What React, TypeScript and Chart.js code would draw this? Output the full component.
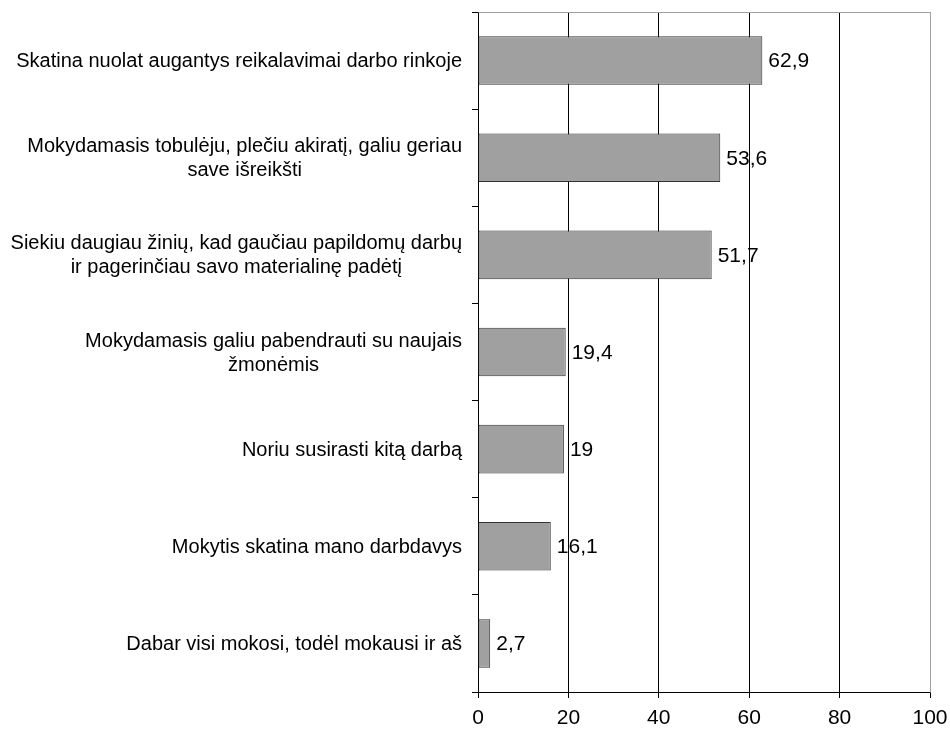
import React, { useEffect, useRef } from "react";
import { Chart, registerables } from "chart.js";

Chart.register(...registerables);

const categories: string[][] = [
  ["Skatina nuolat augantys reikalavimai darbo rinkoje"],
  ["Mokydamasis tobulėju, plečiu akiratį, galiu geriau", "save išreikšti"],
  ["Siekiu daugiau žinių, kad gaučiau papildomų darbų", "ir pagerinčiau savo materialinę padėtį"],
  ["Mokydamasis galiu pabendrauti su naujais", "žmonėmis"],
  ["Noriu susirasti kitą darbą"],
  ["Mokytis skatina mano darbdavys"],
  ["Dabar visi mokosi, todėl mokausi ir aš"],
];
const values: number[] = [62.9, 53.6, 51.7, 19.4, 19, 16.1, 2.7];
const valueLabels: string[] = ["62,9", "53,6", "51,7", "19,4", "19", "16,1", "2,7"];
const xTicks: number[] = [0, 20, 40, 60, 80, 100];

const FONT = "'Liberation Sans', Arial, sans-serif";
const FS = 20;
const NFS = 21;

const labelsPlugin = {
  id: "customLabels",
  afterDraw(chart: any) {
    const ctx = chart.ctx;
    const area = chart.chartArea;
    const xs = chart.scales.x;
    const ys = chart.scales.y;
    ctx.save();
    ctx.strokeStyle = "#a0a0a0";
    ctx.lineWidth = 1;
    ctx.beginPath();
    ctx.moveTo(Math.round(area.left) + 0.5, Math.round(area.top) + 0.5);
    ctx.lineTo(Math.round(area.right) + 0.5, Math.round(area.top) + 0.5);
    ctx.lineTo(Math.round(area.right) + 0.5, Math.round(area.bottom) + 0.5);
    ctx.stroke();
    ctx.fillStyle = "#000";
    ctx.textBaseline = "middle";
    const lh = 24;
    categories.forEach((lines, i) => {
      const yc = ys.getPixelForValue(i) + 1;
      ctx.font = `${FS}px ${FONT}`;
      const maxW = Math.max(...lines.map((l) => ctx.measureText(l).width));
      const cx = area.left - 16 - maxW / 2;
      ctx.textAlign = "center";
      lines.forEach((l, j) => {
        const y = yc + (j - (lines.length - 1) / 2) * lh;
        ctx.fillText(l, cx, y);
      });
      ctx.font = `${NFS}px ${FONT}`;
      ctx.textAlign = "left";
      const xe = xs.getPixelForValue(values[i]);
      ctx.fillText(valueLabels[i], xe + 6, yc);
    });
    ctx.restore();
  },
};

export default function App() {
  const ref = useRef<HTMLCanvasElement>(null);
  useEffect(() => {
    const chart = new Chart(ref.current!, {
      type: "bar",
      data: {
        labels: categories.map((c) => c.join(" ")),
        datasets: [
          {
            data: values,
            backgroundColor: "#a0a0a0",
            borderColor: "#333333",
            borderWidth: 1,
            borderSkipped: false,
            categoryPercentage: 1,
            barPercentage: 0.5,
          },
        ],
      },
      options: {
        indexAxis: "y",
        animation: false,
        responsive: false,
        devicePixelRatio: 1,
        layout: { padding: { top: 12, right: 20, left: 0, bottom: 0 } },
        plugins: { legend: { display: false }, tooltip: { enabled: false } },
        scales: {
          x: {
            min: 0,
            max: 100,
            afterBuildTicks: (s: any) => {
              s.ticks = xTicks.map((v) => ({ value: v }));
            },
            afterFit: (s: any) => {
              s.height = 40;
              s.paddingLeft = 0;
              s.paddingRight = 0;
            },
            grid: {
              color: (c: any) => (c.tick && c.tick.value === 100 ? "#a0a0a0" : "#000"),
              tickColor: "#000",
              tickLength: 6,
              lineWidth: 1,
            },
            border: { color: "#000" },
            ticks: {
              color: "#000",
              font: { family: FONT, size: NFS },
              padding: 8,
              maxRotation: 0,
            },
          },
          y: {
            grid: {
              offset: true,
              drawOnChartArea: false,
              drawTicks: true,
              tickLength: 6,
              tickColor: "#000",
            },
            border: { color: "#000" },
            ticks: { display: false },
            afterFit: (s: any) => {
              s.width = 478;
            },
          },
        },
      },
      plugins: [labelsPlugin],
    });
    return () => chart.destroy();
  }, []);
  return (
    <div style={{ position: "absolute", left: 0, top: 0, width: 950, height: 732, background: "#fff" }}>
      <canvas ref={ref} width={950} height={732} />
    </div>
  );
}
